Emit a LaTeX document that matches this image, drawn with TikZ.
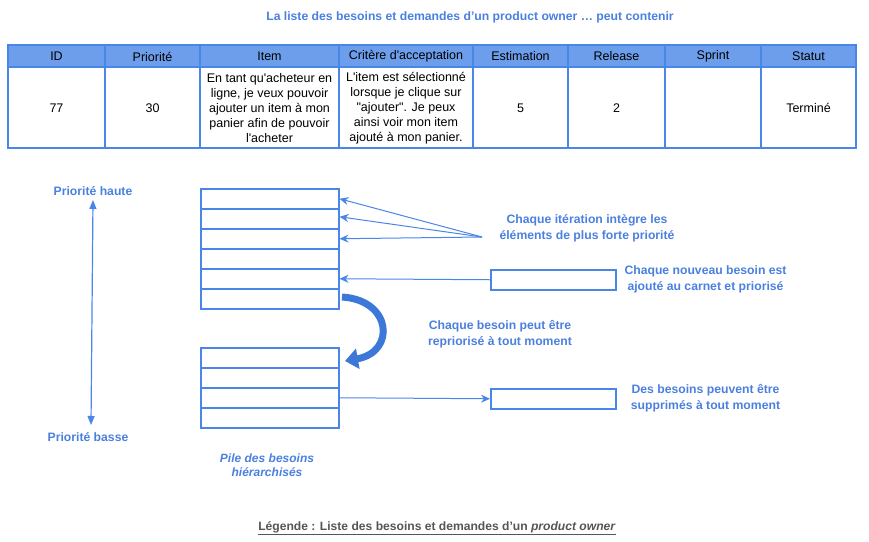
\documentclass[tikz,border=0pt]{standalone}
\usepackage{fontspec}
\setmainfont{Liberation Sans}
\newfontfamily\tabfont{Liberation Sans}
\IfFontExistsTF{Noto Sans Bold}{%
  \IfFontExistsTF{Noto Sans Bold Italic}{%
    \newfontfamily\labfont{Noto Sans}[BoldFont={Noto Sans Bold},BoldItalicFont={Noto Sans Bold Italic}]%
  }{%
    \newfontfamily\labfont{Noto Sans}[BoldFont={Noto Sans Bold},BoldItalicFont={Noto Sans Bold},BoldItalicFeatures={FakeSlant=0.2}]%
  }%
}{%
  \newfontfamily\labfont{Liberation Sans}[BoldFont={Liberation Sans Bold},BoldItalicFont={Liberation Sans Bold Italic}]%
}
\usetikzlibrary{arrows.meta}
\definecolor{cblue}{HTML}{4A86E8}
\definecolor{tblue}{HTML}{4A80DF}
\definecolor{hdrfill}{HTML}{6D9EEB}
\definecolor{dblue}{HTML}{3C78D8}
\definecolor{leggray}{HTML}{555555}
\begin{document}
\begin{tikzpicture}[x=1pt,y=-1pt,
  tabline/.style={draw=cblue,line width=1.5pt},
  hdrtext/.style={font=\tabfont\fontsize{12.5}{15}\selectfont,inner sep=0pt},
  celltext/.style={font=\tabfont\fontsize{12.5}{15}\selectfont,align=center,inner sep=0pt},
  lab/.style={font=\labfont\bfseries\fontsize{12.2}{16}\selectfont,text=tblue,align=center,inner sep=0pt},
  stackcell/.style={draw=cblue,line width=1.5pt,minimum width=138pt,minimum height=20pt,inner sep=0pt,anchor=north west},
  rbox/.style={draw=cblue,line width=1.5pt,minimum width=125pt,minimum height=20pt,inner sep=0pt,anchor=north west},
  conn/.style={draw=cblue,line width=1pt,-{Stealth[length=9pt,width=8pt,inset=3pt]}},
]
\useasboundingbox (0,0) rectangle (869,541);

% title
\node[lab,font=\labfont\bfseries\fontsize{12.2}{14}\selectfont] (title) at (470,17) {La liste des besoins et demandes d’un product owner … peut contenir};

% table header fill
\fill[hdrfill] (8,45) rectangle (856,67);
\foreach \a/\b/\t [count=\i] in {8/105/ID,105/200/Priorité,200/339/Item,339/473/Critère d'acceptation,473/568/Estimation,568/665/Release,665/761/Sprint,761/856/Statut}{
  \node[hdrtext] (h\i) at ({(\a+\b)/2},56.5) {\t};
}
\draw[tabline] (8,45) rectangle (856,148);
\draw[tabline] (8,67) -- (856,67);
\foreach \x in {105,200,339,473,568,665,761}{
  \draw[tabline] (\x,45) -- (\x,148);
}
% row
\node[celltext] (c1) at (56.5,108) {77};
\node[celltext] (c2) at (152.5,108) {30};
\node[celltext] (c3) at (269.5,108.5) {En tant qu'acheteur en\\ligne, je veux pouvoir\\ajouter un item à mon\\panier afin de pouvoir\\l'acheter};
\node[celltext] (c4) at (406,108.5) {L'item est sélectionné\\lorsque je clique sur\\"ajouter". Je peux\\ainsi voir mon item\\ajouté à mon panier.};
\node[celltext] (c5) at (520.5,108) {5};
\node[celltext] (c6) at (616.5,108) {2};
\node[celltext] (c8) at (808.5,108) {Terminé};

% priority axis
\node[lab] (ph) at (93,191) {Priorité haute};
\node[lab] (pb) at (88,437) {Priorité basse};
\coordinate (ptop) at (93,200);
\coordinate (pbot) at (91,425);
\draw[draw=cblue,line width=1.2pt,{Triangle[length=9pt,width=7pt]}-{Triangle[length=9pt,width=7pt]}] (ptop) -- (pbot);

% stacks
\foreach \i in {1,...,6}{
  \node[stackcell] (s\i) at (200,{188+20*(\i-1)}) {};
}
\foreach \i in {1,...,4}{
  \node[stackcell] (t\i) at (200,{347+20*(\i-1)}) {};
}

% right boxes
\node[rbox] (r1) at (490,269) {};
\node[rbox] (r2) at (490,388) {};

% labels
\node[lab] (n1) at (587,228.5) {Chaque itération intègre les\\éléments de plus forte priorité};
\node[lab] (n2) at (705.5,279.5) {Chaque nouveau besoin est\\ajouté au carnet et priorisé};
\node[lab] (n3) at (500,334) {Chaque besoin peut être\\repriorisé à tout moment};
\node[lab] (n4) at (705.5,398.5) {Des besoins peuvent être\\supprimés à tout moment};
\node[lab,font=\labfont\bfseries\itshape\fontsize{12}{14}\selectfont] (pile) at (267,465) {Pile des besoins\\hiérarchisés};

% connectors
\coordinate (src) at (482,237);
\draw[conn] (src) -- (s1.east);
\draw[conn] (src) -- ([yshift=2pt]s2.east);
\draw[conn] (src) -- (s3.east);
\draw[conn] (r1.west) -- (s5.east);
\draw[conn] (t3.east) -- (r2.west);

% curved thick arrow
\coordinate (cstart) at (342,297);
\coordinate (cend) at (345,361);
\draw[dblue,line width=7pt,-{Triangle[length=13pt,width=20pt]}] (cstart) .. controls (392,300) and (396,352) .. (cend);

% legend
\node[font=\labfont\bfseries\fontsize{12.1}{14}\selectfont,text=leggray,inner sep=0pt] (leg) at (437,528) {\underline{Légende : Liste des besoins et demandes d’un \textit{product owner}}};
\end{tikzpicture}
\end{document}
